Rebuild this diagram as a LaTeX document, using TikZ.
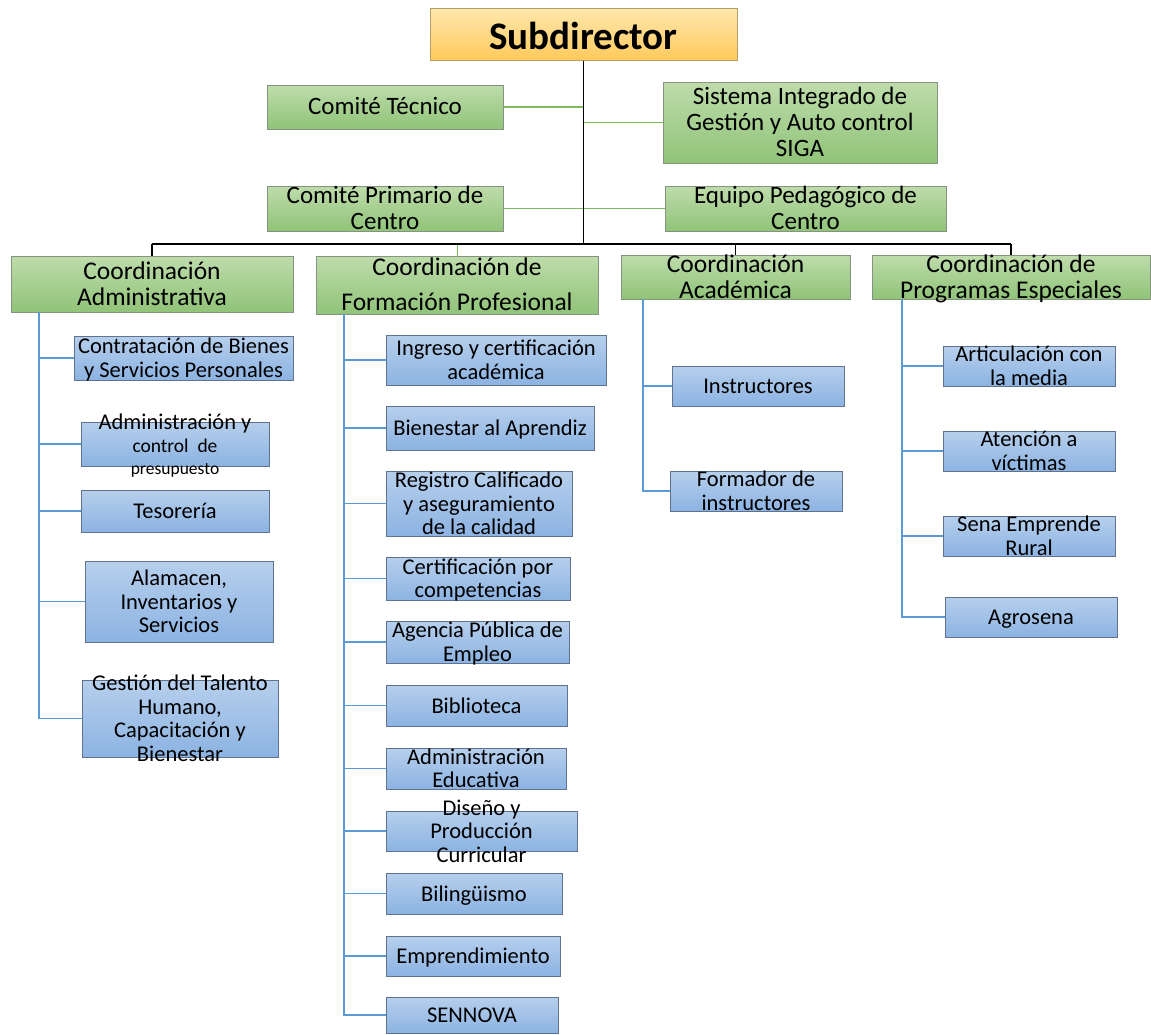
\documentclass[tikz,border=0pt]{standalone}
\usepackage{fontspec}
\setmainfont{Carlito}
\usetikzlibrary{positioning}

\definecolor{headtop}{HTML}{FFE7AE}
\definecolor{headbot}{HTML}{FFCA5C}
\definecolor{headedge}{HTML}{B59E6A}
\definecolor{grntop}{HTML}{BEDCAB}
\definecolor{grnbot}{HTML}{90C378}
\definecolor{grnedge}{HTML}{849480}
\definecolor{blutop}{HTML}{B6CFEC}
\definecolor{blubot}{HTML}{8CB3E2}
\definecolor{bluedge}{HTML}{5F7391}
\definecolor{grnlink}{HTML}{7DBA5E}
\definecolor{blulink}{HTML}{5B9BD5}

% text block centred on the box, allowed to spill over its edges
\newcommand{\boxtext}[1]{\smash{\raisebox{-.36em}{\begin{tabular}{@{}c@{}}#1\end{tabular}}}}

\tikzset{
  box/.style={draw, line width=1pt, inner sep=0pt, text=black},
  sz/.style 2 args={minimum width=#1pt, minimum height=#2pt},
  headbox/.style={box, draw=headedge, top color=headtop, bottom color=headbot,
    font=\fontsize{39}{40}\selectfont\bfseries},
  staffbox/.style={box, draw=grnedge, top color=grntop, bottom color=grnbot,
    font=\fontsize{25}{26}\selectfont},
  coordbox/.style={box, draw=grnedge, top color=grntop, bottom color=grnbot,
    font=\fontsize{25.5}{26}\selectfont},
  unitbox/.style={box, draw=bluedge, top color=blutop, bottom color=blubot,
    font=\fontsize{22.5}{23.5}\selectfont},
  mainlink/.style={black, line width=1.6pt},
  stafflink/.style={grnlink, line width=1.6pt},
  unitlink/.style={blulink, line width=1.4pt},
}

\begin{document}
\begin{tikzpicture}[x=1pt, y=-1pt]
  \useasboundingbox (0,0) rectangle (1151,1034);

  % top of the chart
  \node[headbox, sz={307}{52}] (sub) at (583.5,34) {\boxtext{Subdirector}};
  \node[staffbox, sz={236}{44}] (ctec) at (385,107) {\boxtext{Comité Técnico}};
  \node[staffbox, sz={274}{81}] (siga) at (800,122.5)
    {\boxtext{Sistema Integrado de\\Gestión y Auto control\\SIGA}};
  \node[staffbox, sz={236}{45}] (cprim) at (385,208.5)
    {\boxtext{Comité Primario de\\Centro}};
  \node[staffbox, sz={281}{45}] (equipo) at (805.5,208.5)
    {\boxtext{Equipo Pedagógico de\\Centro}};

  % coordinations
  \node[coordbox, sz={282}{56}] (coadm) at (152,284)
    {\boxtext{Coordinación\\Administrativa}};
  \node[coordbox, sz={282}{58}] (coform) at (457,285)
    {\boxtext{Coordinación de\\[9pt]Formación Profesional}};
  \node[coordbox, sz={229}{44}] (coacad) at (735.5,277)
    {\boxtext{Coordinación\\Académica}};
  \node[coordbox, sz={278}{44}] (coprog) at (1011,277)
    {\boxtext{Coordinación de\\Programas Especiales}};

  % Coordinación Administrativa
  \node[unitbox, sz={219}{44}] (contrat) at (183.5,358)
    {\boxtext{Contratación de Bienes\\y Servicios Personales}};
  \node[unitbox, sz={188}{44}] (presup) at (175,444)
    {\boxtext{Administración y\\{\fontsize{19.5}{20}\selectfont control~~de}\\[-2pt]
      {\fontsize{17.5}{19}\selectfont presupuesto}}};
  \node[unitbox, sz={188}{42}] (tesor) at (175,511) {\boxtext{Tesorería}};
  \node[unitbox, sz={188}{81}] (almac) at (179,601.5)
    {\boxtext{Alamacen,\\Inventarios y\\Servicios}};
  \node[unitbox, sz={196}{77}] (talento) at (180,718.5)
    {\boxtext{Gestión del Talento\\Humano,\\Capacitación y\\Bienestar}};

  % Coordinación de Formación Profesional
  \node[unitbox, sz={220}{50}] (ingreso) at (496,360)
    {\boxtext{Ingreso y certificación\\académica}};
  \node[unitbox, sz={208}{44}] (bienest) at (490,428)
    {\boxtext{Bienestar al Aprendiz}};
  \node[unitbox, sz={186}{65}] (registro) at (479,503.5)
    {\boxtext{Registro Calificado\\y aseguramiento\\de la calidad}};
  \node[unitbox, sz={184}{43}] (certif) at (478,578.5)
    {\boxtext{Certificación por\\competencias}};
  \node[unitbox, sz={183}{42}] (agencia) at (477.5,642)
    {\boxtext{Agencia Pública de\\Empleo}};
  \node[unitbox, sz={181}{41}] (biblio) at (476.5,705.5) {\boxtext{Biblioteca}};
  \node[unitbox, sz={180}{41}] (admedu) at (476,768.5)
    {\boxtext{Administración\\Educativa}};
  \node[unitbox, sz={191}{40}] (diseno) at (481.5,831)
    {\boxtext{Diseño y\\Producción\\Curricular}};
  \node[unitbox, sz={176}{41}] (biling) at (474,893.5) {\boxtext{Bilingüismo}};
  \node[unitbox, sz={174}{40}] (empren) at (473,956) {\boxtext{Emprendimiento}};
  \node[unitbox, sz={172}{36}] (sennova) at (472,1015) {\boxtext{SENNOVA}};

  % Coordinación Académica
  \node[unitbox, sz={172}{40}] (instr) at (758,386) {\boxtext{Instructores}};
  \node[unitbox, sz={172}{40}] (formins) at (756,491)
    {\boxtext{Formador de\\instructores}};

  % Coordinación de Programas Especiales
  \node[unitbox, sz={172}{40}] (artic) at (1029,366)
    {\boxtext{Articulación con\\la media}};
  \node[unitbox, sz={172}{40}] (atenc) at (1029,451)
    {\boxtext{Atención a\\víctimas}};
  \node[unitbox, sz={172}{40}] (rural) at (1029,536)
    {\boxtext{Sena Emprende\\Rural}};
  \node[unitbox, sz={172}{40}] (agro) at (1031,617) {\boxtext{Agrosena}};

  % links
  \coordinate (hub) at (583.5,244);
  \draw[stafflink] (ctec.east) -- (ctec.east -| sub.south);
  \draw[stafflink] (siga.west) -- (siga.west -| sub.south);
  \draw[stafflink] (cprim.east) -- (equipo.west);
  \draw[stafflink, line width=1pt] (coform.north |- hub) -- (coform.north);
  \draw[mainlink] (sub.south) -- (hub);
  \draw[mainlink] (coadm.north |- hub) -- (coprog.north |- hub);
  \foreach \c in {coadm,coacad,coprog}
    \draw[mainlink] (\c.north |- hub) -- (\c.north);

  \coordinate (admspine) at (39,312);
  \coordinate (formspine) at (344,314);
  \coordinate (acadspine) at (643,299);
  \coordinate (progspine) at (902,299);
  \foreach \u in {contrat,presup,tesor,almac,talento}
    \draw[unitlink] (admspine) |- (\u.west);
  \foreach \u in {ingreso,bienest,registro,certif,agencia,biblio,admedu,diseno,biling,empren,sennova}
    \draw[unitlink] (formspine) |- (\u.west);
  \foreach \u in {instr,formins}
    \draw[unitlink] (acadspine) |- (\u.west);
  \foreach \u in {artic,atenc,rural,agro}
    \draw[unitlink] (progspine) |- (\u.west);

\end{tikzpicture}
\end{document}
